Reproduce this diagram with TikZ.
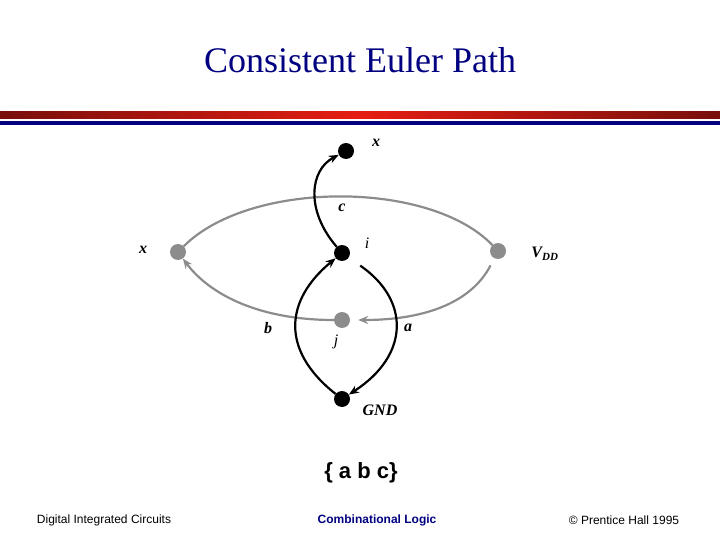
\documentclass[tikz,border=0pt]{standalone}
\usepackage{fontspec}
\setmainfont{Liberation Serif}
\setsansfont{Liberation Sans}
\usetikzlibrary{arrows.meta}
\definecolor{navy}{RGB}{0,0,128}
\definecolor{wire}{RGB}{140,140,140}
\definecolor{barred}{RGB}{230,30,20}
\definecolor{bardark}{RGB}{120,15,10}

\begin{document}
\begin{tikzpicture}[x=1pt,y=-1pt,
   dot/.style={circle,fill=black,inner sep=0pt,minimum size=16pt},
   gdot/.style={dot,fill=wire},
   lbl/.style={font=\fontsize{16}{16}\selectfont\bfseries\itshape},
   nlbl/.style={font=\fontsize{16}{16}\selectfont\itshape},
   foot/.style={font=\sffamily\fontsize{12}{12}\selectfont},
   blk/.style={line width=2.2pt,-{Stealth[length=10pt,width=8pt]}},
   gry/.style={line width=2.2pt,draw=wire,-{Stealth[length=10pt,width=8pt]}}]
   \useasboundingbox (0,0) rectangle (720,540);

   % title and bars
   \node[font=\fontsize{36}{36}\selectfont,text=navy] (title) at (360,60) {Consistent Euler Path};
   \shade[left color=bardark,right color=bardark,middle color=barred] (0,112) rectangle (720,119);
   \fill[navy] (0,121) rectangle (720,125);

   % nodes of the graph
   \node[dot]  (x_t) at (346,151) {};
   \node[dot]  (i)   at (342,253) {};
   \node[gdot] (x_l) at (178,252) {};
   \node[gdot] (vdd) at (498,251) {};
   \node[gdot] (j)   at (342,320) {};
   \node[dot]  (gnd) at (342,399) {};

   \node[lbl]  (lx_t) at (376,143) {x};
   \node[nlbl] (li)   at (367,243) {i};
   \node[lbl]  (lx_l) at (143,250) {x};
   \node[lbl]  (lvdd) at (545,254) {V\textsubscript{\fontsize{11}{11}\selectfont DD}};
   \node[nlbl] (lj)   at (336,342) {j};
   \node[lbl]  (lgnd) at (380,410) {GND};
   \node[lbl]  (lc)   at (342,208) {c};
   \node[lbl]  (lb)   at (268,328) {b};
   \node[lbl]  (la)   at (408,328) {a};

   % gray graph
   \draw[line width=2.2pt,draw=wire] (x_l) .. controls (250,180) and (430,180) .. (vdd);
   \draw[gry,shorten <=8pt,shorten >=8pt] (vdd) .. controls (470,305) and (420,320) .. (j);
   \draw[gry] (j) .. controls (260,320) and (210,295) .. (x_l);

   % black graph
   \draw[blk] (i) .. controls (305,210) and (310,170) .. (x_t);
   \draw[blk] (gnd) .. controls (280,350) and (285,300) .. (i);
   \draw[blk,shorten <=14pt] (i) .. controls (410,300) and (410,355) .. (gnd);

   \node[font=\sffamily\bfseries\fontsize{22}{22}\selectfont] (seq) at (361,473) {\{ a b c\}};

   % footer
   \node[foot] (f_l) at (104,520) {Digital Integrated Circuits};
   \node[foot,font=\sffamily\bfseries\fontsize{12}{12}\selectfont,text=navy] (f_c) at (377,520) {Combinational Logic};
   \node[foot] (f_r) at (624,520) {© Prentice Hall 1995};
\end{tikzpicture}
\end{document}
